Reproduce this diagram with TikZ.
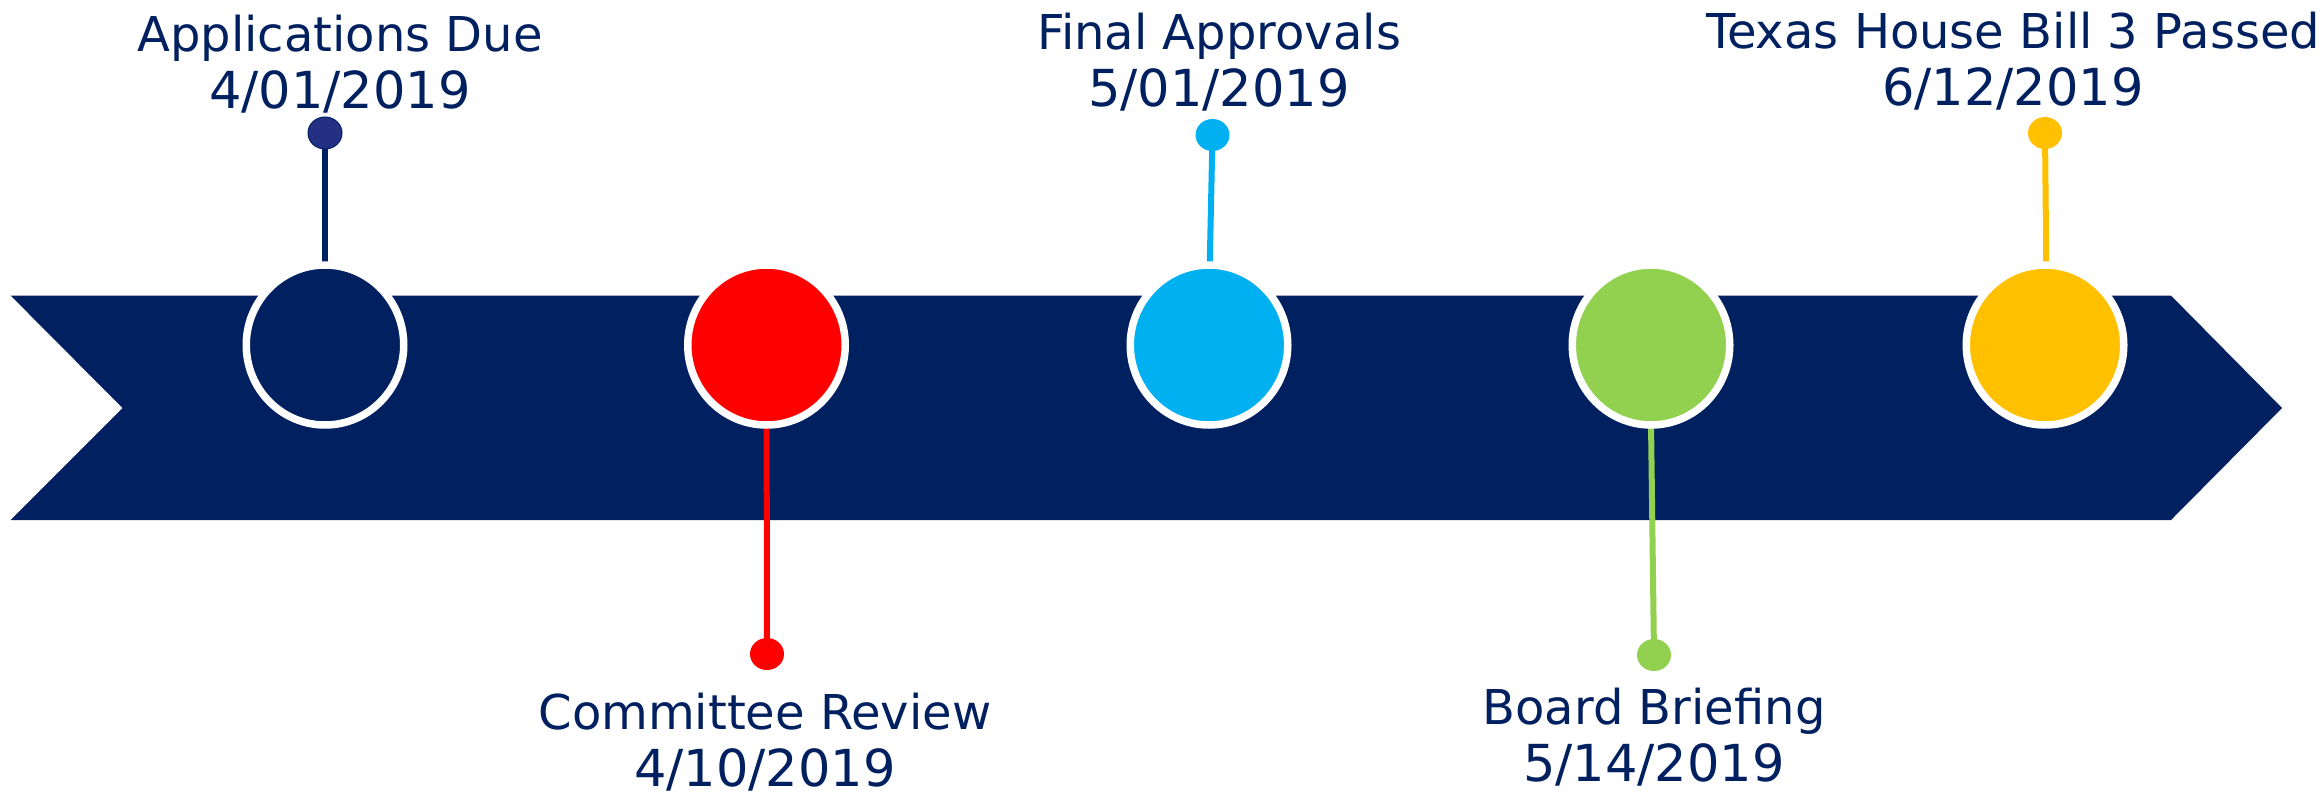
\documentclass[tikz,border=0pt]{standalone}
\usepackage{fontspec}
\setmainfont{DejaVu Sans}
\usetikzlibrary{shapes.geometric}
\pgfdeclarelayer{bandlayer}
\pgfdeclarelayer{stemlayer}
\pgfsetlayers{bandlayer,stemlayer,main}
\definecolor{navy}{HTML}{002060}
\definecolor{dotnavy}{HTML}{233083}
\definecolor{ered}{HTML}{FF0000}
\definecolor{ecyan}{HTML}{00B0F0}
\definecolor{egreen}{HTML}{92D050}
\definecolor{eyellow}{HTML}{FFC000}
\newcommand{\dt}[1]{{\fontsize{51}{57}\selectfont #1}}
\begin{document}
\begin{tikzpicture}[x=1pt,y=-1pt,
  bigdot/.style={ellipse,draw=white,line width=7.5pt,minimum width=157.5pt,minimum height=160pt,inner sep=0pt,fill=#1},
  smalldot/.style={ellipse,minimum width=34pt,minimum height=32pt,inner sep=0pt,fill=#1},
  stem/.style={line width=6pt,draw=#1},
  lbl/.style={text=navy,font=\fontsize{48}{57}\selectfont,align=center,anchor=base,inner sep=0pt}
]
\useasboundingbox (0,0) rectangle (2324,795);
\begin{pgfonlayer}{bandlayer}
\fill[white] (0,0) rectangle (2324,795);
\fill[navy] (10.7,295.6) -- (2171,295.6) -- (2282,408) -- (2171,520) -- (10.7,520) -- (122.5,408) -- cycle;
\end{pgfonlayer}
% small dots
\node[smalldot=dotnavy,draw=navy,line width=1pt] (d1) at (325,133) {};
\node[smalldot=ered] (d2) at (767,654) {};
\node[smalldot=ecyan] (d3) at (1212.5,135) {};
\node[smalldot=egreen] (d4) at (1654,655) {};
\node[smalldot=eyellow] (d5) at (2045,133) {};
% big circles
\node[bigdot=navy] (b1) at (325,345) {};
\node[bigdot=ered] (b2) at (766.5,345) {};
\node[bigdot=ecyan] (b3) at (1209,345) {};
\node[bigdot=egreen] (b4) at (1651,345) {};
\node[bigdot=eyellow] (b5) at (2045,345) {};
% stems (run under the circles, to their centres)
\begin{pgfonlayer}{stemlayer}
\draw[stem=navy] (d1.center) -- (b1.center);
\draw[stem=ered] (d2.center) -- (b2.center);
\draw[stem=ecyan] (d3.center) -- ([xshift=-1pt]b3.center);
\draw[stem=egreen] (d4.center) -- ([xshift=-1pt]b4.center);
\draw[stem=eyellow] (d5.center) -- ([xshift=2pt]b5.center);
\end{pgfonlayer}
% labels (anchor = baseline of last line)
\node[lbl] (t1) at (340,108) {Applications Due\\\dt{4/01/2019}};
\node[lbl] (t2) at (765,786) {Committee Review\\\dt{4/10/2019}};
\node[lbl] (t3) at (1219,106.5) {Final Approvals\\\dt{5/01/2019}};
\node[lbl] (t4) at (1654,781) {Board Briefing\\\dt{5/14/2019}};
\node[lbl] (t5) at (2013,105) {Texas House Bill 3 Passed\\\dt{6/12/2019}};
\end{tikzpicture}
\end{document}
